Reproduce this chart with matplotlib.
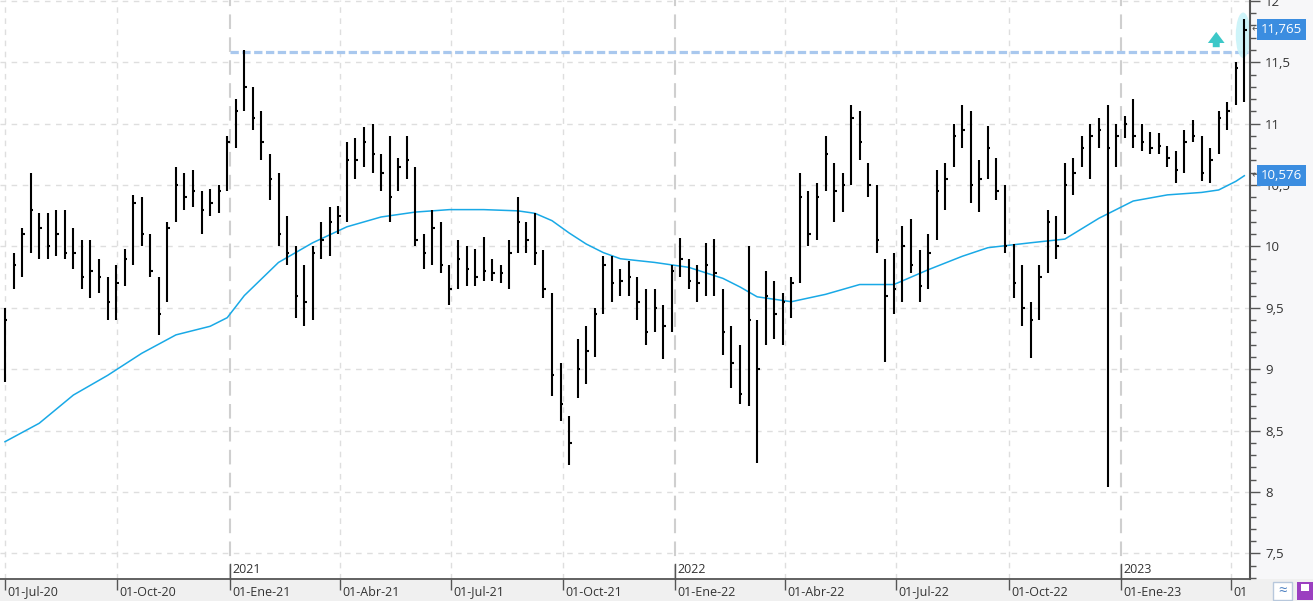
import numpy as np
import pandas as pd
import matplotlib
matplotlib.use("Agg")
import matplotlib.pyplot as plt
import matplotlib.dates as mdates
import matplotlib.transforms as mtransforms
from matplotlib.patches import Ellipse, Rectangle
from matplotlib.ticker import FuncFormatter, MultipleLocator

plt.rcParams["font.family"] = ["Open Sans", "DejaVu Sans"]

# --------------------------
# Données (barres hebdomadaires)
# --------------------------
first_week = "2020-07-01"   # mercredi de la première semaine

week_low = [
    8.90, 9.65, 9.75, 9.95, 9.90, 9.90, 9.92, 9.90, 9.82, 9.65,
    9.58, 9.62, 9.40, 9.40, 9.68, 9.85, 10.00, 9.75, 9.28, 9.55,
    10.20, 10.30, 10.32, 10.10, 10.25, 10.27, 10.45, 10.80, 11.10, 10.95,
    10.70, 10.38, 10.00, 9.85, 9.42, 9.35, 9.40, 9.90, 9.92, 10.10,
    10.20, 10.55, 10.65, 10.60, 10.45, 10.20, 10.45, 10.55, 10.00, 9.82,
    9.85, 9.78, 9.52, 9.65, 9.68, 9.68, 9.72, 9.72, 9.70, 9.65,
    9.95, 9.95, 9.85, 9.58, 8.78, 8.58, 8.22, 8.77, 8.88, 9.10,
    9.45, 9.55, 9.60, 9.60, 9.40, 9.20, 9.30, 9.08, 9.30, 9.75,
    9.65, 9.55, 9.60, 9.60, 9.12, 8.85, 8.72, 8.70, 8.24, 9.20,
    9.25, 9.20, 9.42, 9.70, 10.00, 10.05, 10.45, 10.20, 10.28, 10.50,
    10.70, 10.40, 9.95, 9.06, 9.45, 9.55, 9.78, 9.55, 9.65, 10.05,
    10.30, 10.65, 10.80, 10.35, 10.28, 10.55, 10.38, 9.95, 9.58, 9.35,
    9.09, 9.40, 9.78, 9.90, 10.10, 10.42, 10.65, 10.55, 10.80, 8.04,
    10.65, 10.88, 10.80, 10.78, 10.75, 10.75, 10.65, 10.52, 10.60, 10.85,
    10.53, 10.52, 10.75, 10.95, 11.15, 11.18,
]
week_high = [
    9.50, 9.95, 10.15, 10.60, 10.27, 10.27, 10.30, 10.30, 10.15, 10.05,
    10.05, 9.90, 9.75, 9.85, 9.98, 10.42, 10.40, 10.10, 9.75, 10.20,
    10.65, 10.60, 10.62, 10.45, 10.47, 10.50, 10.90, 11.20, 11.60, 11.30,
    11.10, 10.75, 10.60, 10.25, 10.00, 9.85, 10.00, 10.20, 10.32, 10.33,
    10.85, 10.88, 10.97, 11.00, 10.75, 10.90, 10.72, 10.90, 10.65, 10.10,
    10.30, 10.20, 9.85, 10.05, 10.00, 9.98, 10.08, 9.90, 9.85, 10.05,
    10.40, 10.20, 10.27, 9.97, 9.62, 9.05, 8.62, 9.25, 9.35, 9.50,
    9.92, 9.92, 9.82, 9.88, 9.75, 9.65, 9.65, 9.52, 9.85, 10.07,
    9.90, 9.85, 10.03, 10.06, 9.65, 9.35, 9.20, 10.00, 9.40, 9.80,
    9.72, 9.62, 9.75, 10.60, 10.45, 10.52, 10.90, 10.68, 10.60, 11.15,
    11.10, 10.68, 10.50, 9.90, 9.95, 10.17, 10.22, 9.97, 10.10, 10.62,
    10.68, 11.00, 11.15, 11.10, 10.70, 10.98, 10.72, 10.50, 10.02, 9.85,
    9.55, 9.85, 10.30, 10.25, 10.68, 10.72, 10.90, 11.00, 11.05, 11.15,
    11.00, 11.06, 11.20, 11.00, 10.93, 10.92, 10.82, 10.78, 10.95, 11.03,
    10.90, 10.80, 11.10, 11.18, 11.50, 11.85,
]
week_close = [
    9.40, 9.85, 10.10, 10.30, 10.15, 10.00, 10.10, 9.95, 9.95, 9.75,
    9.80, 9.75, 9.55, 9.70, 9.90, 10.35, 10.10, 9.80, 9.45, 10.15,
    10.50, 10.40, 10.45, 10.30, 10.35, 10.45, 10.85, 11.10, 11.30, 11.05,
    10.85, 10.55, 10.10, 9.95, 9.60, 9.55, 9.95, 10.05, 10.20, 10.25,
    10.70, 10.70, 10.85, 10.75, 10.60, 10.40, 10.65, 10.70, 10.05, 9.95,
    10.15, 9.85, 9.65, 9.90, 9.82, 9.75, 9.80, 9.78, 9.78, 9.95,
    10.20, 10.05, 9.95, 9.65, 8.95, 8.72, 8.40, 9.00, 9.15, 9.45,
    9.85, 9.70, 9.72, 9.75, 9.55, 9.30, 9.50, 9.35, 9.80, 9.90,
    9.72, 9.70, 9.85, 9.78, 9.30, 9.05, 8.80, 9.40, 9.00, 9.60,
    9.45, 9.55, 9.70, 10.40, 10.10, 10.40, 10.75, 10.45, 10.50, 11.05,
    10.85, 10.50, 10.05, 9.60, 9.65, 10.00, 9.85, 9.68, 9.95, 10.45,
    10.55, 10.90, 10.95, 10.50, 10.55, 10.80, 10.45, 10.00, 9.70, 9.50,
    9.40, 9.75, 10.20, 10.00, 10.50, 10.60, 10.80, 10.90, 10.95, 10.80,
    10.90, 11.00, 10.90, 10.85, 10.80, 10.82, 10.72, 10.62, 10.85, 10.90,
    10.60, 10.70, 11.05, 11.10, 11.45, 11.765,
]

# moyenne mobile (ligne bleue), lue toutes les ~4 semaines
ma_weeks = [0, 4, 8, 12, 16, 20, 24, 26, 28, 32, 36, 40, 44, 48, 52, 56, 60, 62,
            64, 66, 68, 70, 72, 76, 80, 84, 86, 88, 92, 96, 100, 104, 108, 112,
            115, 120, 124, 128, 132, 136, 140, 142, 144, 145]
ma_values = [8.41, 8.56, 8.79, 8.95, 9.13, 9.28, 9.35, 9.42, 9.60, 9.87, 10.03,
             10.16, 10.24, 10.28, 10.30, 10.30, 10.29, 10.27, 10.21, 10.11, 10.02,
             9.95, 9.90, 9.87, 9.83, 9.74, 9.67, 9.59, 9.55, 9.61, 9.69, 9.69,
             9.81, 9.92, 9.99, 10.03, 10.06, 10.23, 10.37, 10.42, 10.44, 10.46,
             10.53, 10.576]

resistance = 11.585
last_price = 11.765
last_ma = 10.576

quarter_ticks = ["2020-07-01", "2020-10-01", "2021-01-01", "2021-04-01", "2021-07-01",
                 "2021-10-01", "2022-01-01", "2022-04-01", "2022-07-01", "2022-10-01",
                 "2023-01-01", "2023-04-01"]
quarter_labels = ["01-Jul-20", "01-Oct-20", "01-Ene-21", "01-Abr-21", "01-Jul-21",
                  "01-Oct-21", "01-Ene-22", "01-Abr-22", "01-Jul-22", "01-Oct-22",
                  "01-Ene-23", "01"]
years = ["2021", "2022", "2023"]

# --------------------------
# Figure
# --------------------------
W, H = 1313, 601
fig = plt.figure(figsize=(W / 100, H / 100), dpi=100, facecolor="#f7f7f9")
ax_right_px, ax_bottom_px = 1250, 579
ax = fig.add_axes([0, (H - ax_bottom_px) / H, ax_right_px / W, ax_bottom_px / H])
ax.set_facecolor("white")
ax.set_zorder(2)

# bande grise du bas
fig.patches.append(Rectangle((0, 0), 1, (H - ax_bottom_px) / H, transform=fig.transFigure,
                             facecolor="#f0f0f0", edgecolor="none", zorder=-1))

dates = pd.Timestamp(first_week) + pd.to_timedelta(7 * np.arange(len(week_close)), unit="D")
xd = mdates.date2num(dates)
x_ma = mdates.date2num(pd.Timestamp(first_week) + pd.to_timedelta(7 * np.array(ma_weeks), unit="D"))

px_per_day = 1.221
x0 = mdates.date2num(pd.Timestamp("2020-07-01")) - 5 / px_per_day
x1 = x0 + 1250 / px_per_day
ax.set_xlim(x0, x1)
ax.set_ylim(7.292, 12.007)

# grille
qx = mdates.date2num(pd.to_datetime(quarter_ticks))
for d, lab in zip(qx, quarter_labels):
    if lab.startswith("01-Ene"):
        ax.axvline(d, color="#cfcfcf", lw=1.5, ls=(0, (7, 4)), zorder=1)
    else:
        ax.axvline(d, color="#dedede", lw=1, ls=(0, (4, 4)), zorder=1)
for v in np.arange(7.5, 12.01, 0.5):
    ax.axhline(v, color="#dedede", lw=1, ls=(0, (4, 4)), zorder=1)

# résistance
ax.hlines(resistance, mdates.date2num(pd.Timestamp("2021-01-01")), xd[-1] + 3,
          color="#a9c8ee", lw=2.3, ls=(0, (2.6, 1.1)), zorder=2)

# zone surlignée sur les dernières barres
ax.add_patch(Ellipse((xd[-1] - 1, 11.72), 12, 0.37, facecolor="#c9f3f9",
                     edgecolor="none", alpha=0.9, zorder=2))

# flèche
xa = mdates.date2num(pd.Timestamp("2023-03-20"))
ax.annotate("", xy=(xa, 11.77), xytext=(xa, 11.6),
            arrowprops=dict(arrowstyle="simple,head_length=0.8,head_width=1.2,tail_width=0.5",
                            fc="#3cc8c8", ec="none", mutation_scale=10), zorder=3)

# moyenne mobile
ax.plot(x_ma, ma_values, color="#19a9e6", lw=1.1, zorder=3)

# barres OHLC (hebdo)
ax.vlines(xd, week_low, week_high, color="black", lw=1.5, zorder=4)
ax.hlines(week_close, xd, xd + 2, color="black", lw=1.5, zorder=4)

# axes
for s in ["top", "left"]:
    ax.spines[s].set_visible(False)
ax.spines["right"].set_color("#555555")
ax.spines["right"].set_linewidth(1.5)
ax.spines["bottom"].set_color("#555555")
ax.spines["bottom"].set_linewidth(1.3)

ax.yaxis.tick_right()
ax.yaxis.set_major_locator(MultipleLocator(0.5))
ax.yaxis.set_minor_locator(MultipleLocator(0.1))
ax.yaxis.set_major_formatter(FuncFormatter(lambda v, p: f"{v:g}".replace(".", ",")))
ax.tick_params(axis="y", which="major", length=7, width=1, color="#555555",
               labelsize=9.5, labelcolor="#333333", pad=4)
ax.tick_params(axis="y", which="minor", length=4, width=1, color="#555555")

ax.set_xticks(qx)
ax.tick_params(axis="x", length=8, width=1, color="#555555", labelbottom=False)

# étiquettes de dates (à droite du repère)
bt = mtransforms.blended_transform_factory(ax.transData, ax.transAxes)
for d, lab in zip(qx, quarter_labels):
    ax.text(d + 2.5 / px_per_day, -13 / 579, lab, transform=bt, fontsize=9,
            color="#333333", ha="left", va="center", clip_on=False)

# repères d'année
for y in years:
    d = mdates.date2num(pd.Timestamp(f"{y}-01-01"))
    ax.plot([d, d], [0, 15 / 579], color="#555555", lw=1, transform=bt, clip_on=False, zorder=5)
    ax.text(d + 2, 3 / 579, y, transform=bt, fontsize=9, color="#333333",
            ha="left", va="bottom")

# étiquettes de prix à droite
rt = mtransforms.blended_transform_factory(ax.transAxes, ax.transData)
for val in [last_price, last_ma]:
    ax.text(1 + 11 / 1250, val, f"{val:.3f}".replace(".", ","), transform=rt,
            fontsize=9.5, color="white", ha="left", va="center", clip_on=False, zorder=6,
            bbox=dict(boxstyle="square,pad=0.3", fc="#3b8de0", ec="none"))
    ax.text(1 + 2 / 1250, val, "←", transform=rt, fontsize=7, color="#555555",
            ha="left", va="center", clip_on=False)

# icônes en bas à droite
fig.patches.append(Rectangle((1273 / W, 1 / H), 19 / W, 18 / H, transform=fig.transFigure,
                             facecolor="white", edgecolor="#b8c8dc", lw=1))
fig.text(1282.5 / W, 10 / H, "≈", fontsize=11, color="#4a7ec0", ha="center", va="center")
fig.patches.append(Rectangle((1297 / W, 1 / H), 16 / W, 18 / H, transform=fig.transFigure,
                             facecolor="#9b3fc0", edgecolor="none"))
fig.patches.append(Rectangle((1301 / W, 10 / H), 8 / W, 7 / H, transform=fig.transFigure,
                             facecolor="white", edgecolor="none"))

fig.savefig("out.png", dpi=100, facecolor=fig.get_facecolor())
